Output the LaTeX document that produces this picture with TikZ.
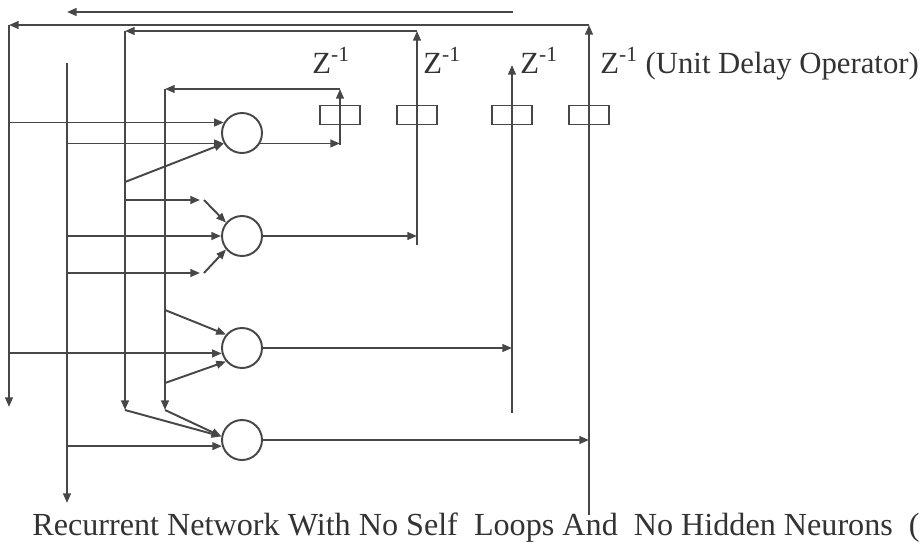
\documentclass[tikz,border=0pt]{standalone}
\usepackage{fontspec}
\setmainfont{Liberation Serif}
\usetikzlibrary{arrows.meta}

\begin{document}
\begin{tikzpicture}[
    neuron/.style={circle, draw=black!72, line width=1.1pt, minimum size=0.8cm, inner sep=0pt},
    delay/.style={rectangle, draw=black!72, line width=1.1pt, minimum width=0.8cm, minimum height=0.38cm, inner sep=0pt},
    lbl/.style={anchor=base west, inner sep=0pt, text=black!80, font=\fontsize{17.5}{20}\selectfont},
    arr/.style={-{Triangle[length=5.5pt,width=4.4pt]}, line width=1.1pt, black!72}
]
    \useasboundingbox (0,0) rectangle (18.42,10.90);

    \node[neuron] (n1) at (4.84,8.24) {};
    \node[neuron] (n2) at (4.84,6.18) {};
    \node[neuron] (n3) at (4.84,3.94) {};
    \node[neuron] (n4) at (4.84,2.10) {};

    \node[delay] (z1) at ( 6.80,8.60) {};
    \node[delay] (z2) at ( 8.34,8.60) {};
    \node[delay] (z3) at (10.24,8.60) {};
    \node[delay] (z4) at (11.78,8.60) {};

    \node[lbl] (l1) at ( 6.24,9.44) {Z\textsuperscript{-1}};
    \node[lbl] (l2) at ( 8.46,9.44) {Z\textsuperscript{-1}};
    \node[lbl] (l3) at (10.40,9.44) {Z\textsuperscript{-1}};
    \node[lbl] (l4) at (12.00,9.44) {Z\textsuperscript{-1} (Unit Delay Operator)};

    \node[lbl, font=\fontsize{18.3}{20}\selectfont] (cap) at (0.64,0.20)
        {Recurrent Network With No Self\ \ Loops And\ \ No Hidden Neurons\ \ (};

    % feedback lines
    \coordinate (a1) at (6.80,8.00);
    \coordinate (a2) at (6.80,9.12);
    \coordinate (a3) at (3.30,9.12);
    \coordinate (a4) at (3.30,2.70);
    \coordinate (a5) at (3.30,4.70);
    \coordinate (a6) at (3.30,3.24);

    \coordinate (b1) at (8.34,6.00);
    \coordinate (b2) at (8.34,10.28);
    \coordinate (b3) at (2.50,10.28);
    \coordinate (b4) at (2.50,2.70);
    \coordinate (b5) at (2.50,7.26);
    \coordinate (b6) at (2.50,6.90);

    \coordinate (c1) at (10.24,2.64);
    \coordinate (c2) at (10.24,9.60);
    \coordinate (c3) at (10.26,10.66);
    \coordinate (c4) at (1.34,10.66);
    \coordinate (c5) at (1.34,9.64);
    \coordinate (c6) at (1.34,0.84);
    \coordinate (c7) at (1.34,5.44);

    \coordinate (d1) at (11.78,0.60);
    \coordinate (d2) at (11.78,10.40);
    \coordinate (d3) at (0.18,10.40);
    \coordinate (d4) at (0.18,2.76);

    \coordinate (k1) at (4.00,6.90);
    \coordinate (k2) at (4.08,6.90);
    \coordinate (k3) at (4.00,5.44);
    \coordinate (k4) at (4.08,5.44);

    \draw[arr] (n1.-30) -- (n1.-30 -| a1);
    \draw[arr] (a1) -- (a2);
    \draw[arr] (a2) -- (a3);
    \draw[arr] (a3) -- (a4);

    \draw[arr] (n2.east) -- (n2.east -| b1);
    \draw[arr] (b1) -- (b2);
    \draw[arr] (b2) -- (b3);
    \draw[arr] (b3) -- (b4);

    \draw[arr] (n3.east) -- (n3.east -| c1);
    \draw[arr] (c1) -- (c2);
    \draw[arr] (c3) -- (c4);
    \draw[arr] (c5) -- (c6);

    \draw[arr] (n4.east) -- (n4.east -| d1);
    \draw[arr] (d1) -- (d2);
    \draw[arr] (d2) -- (d3);
    \draw[arr] (d3) -- (d4);

    % inputs
    \draw[arr] (d4 |- n1.150) -- (n1.150);
    \draw[arr] (c6 |- n1.210) -- (n1.210);
    \draw[arr] (b5) -- (n1.210);

    \draw[arr] (b6) -- (k1);
    \draw[arr] (k2) -- (n2.140);
    \draw[arr] (c6 |- n2.west) -- (n2.west);
    \draw[arr] (c7) -- (k3);
    \draw[arr] (k4) -- (n2.220);

    \draw[arr] (a5) -- (n3.140);
    \draw[arr] (d4 |- n3.195) -- (n3.195);
    \draw[arr] (a6) -- (n3.220);

    \draw[arr] (b4) -- (n4.170);
    \draw[arr] (a4) -- (n4.170);
    \draw[arr] (c6 |- n4.197) -- (n4.197);
\end{tikzpicture}
\end{document}
